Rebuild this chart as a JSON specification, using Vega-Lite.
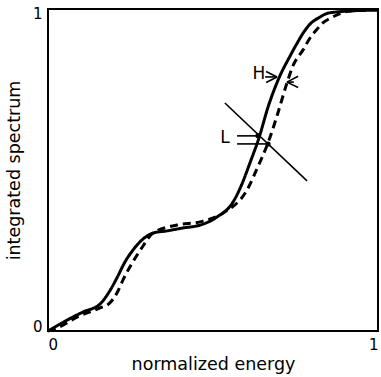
{
  "$schema": "https://vega.github.io/schema/vega-lite/v6.json",
  "width": 330,
  "height": 322,
  "autosize": {"type": "none"},
  "padding": {"left": 48, "top": 9, "right": 3, "bottom": 46},
  "background": "white",
  "config": {
    "view": {"stroke": "black", "strokeWidth": 2},
    "font": "DejaVu Sans",
    "axis": {"grid": false, "ticks": false, "domain": false, "labelColor": "black", "titleColor": "black", "labelFontSize": 15, "titleFontSize": 17.5, "titleFontWeight": "normal", "labelFont": "DejaVu Sans", "titleFont": "DejaVu Sans"}
  },
  "datasets": {
    "curves": [
      {"e": 0, "v": 0, "s": "solid"},
      {"e": 0.015, "v": 0.009, "s": "solid"},
      {"e": 0.058, "v": 0.034, "s": "solid"},
      {"e": 0.106, "v": 0.059, "s": "solid"},
      {"e": 0.158, "v": 0.084, "s": "solid"},
      {"e": 0.188, "v": 0.126, "s": "solid"},
      {"e": 0.209, "v": 0.165, "s": "solid"},
      {"e": 0.233, "v": 0.214, "s": "solid"},
      {"e": 0.258, "v": 0.252, "s": "solid"},
      {"e": 0.285, "v": 0.283, "s": "solid"},
      {"e": 0.318, "v": 0.304, "s": "solid"},
      {"e": 0.361, "v": 0.311, "s": "solid"},
      {"e": 0.409, "v": 0.320, "s": "solid"},
      {"e": 0.461, "v": 0.329, "s": "solid"},
      {"e": 0.512, "v": 0.354, "s": "solid"},
      {"e": 0.561, "v": 0.401, "s": "solid"},
      {"e": 0.585, "v": 0.450, "s": "solid"},
      {"e": 0.612, "v": 0.522, "s": "solid"},
      {"e": 0.640, "v": 0.602, "s": "solid"},
      {"e": 0.667, "v": 0.696, "s": "solid"},
      {"e": 0.700, "v": 0.786, "s": "solid"},
      {"e": 0.733, "v": 0.853, "s": "solid"},
      {"e": 0.755, "v": 0.894, "s": "solid"},
      {"e": 0.773, "v": 0.925, "s": "solid"},
      {"e": 0.794, "v": 0.953, "s": "solid"},
      {"e": 0.824, "v": 0.975, "s": "solid"},
      {"e": 0.845, "v": 0.986, "s": "solid"},
      {"e": 0.876, "v": 0.991, "s": "solid"},
      {"e": 0.915, "v": 0.994, "s": "solid"},
      {"e": 1.0, "v": 0.997, "s": "solid"},
      {"e": 0, "v": 0, "s": "dashed"},
      {"e": 0.027, "v": 0.009, "s": "dashed"},
      {"e": 0.088, "v": 0.043, "s": "dashed"},
      {"e": 0.158, "v": 0.072, "s": "dashed"},
      {"e": 0.185, "v": 0.085, "s": "dashed"},
      {"e": 0.209, "v": 0.118, "s": "dashed"},
      {"e": 0.227, "v": 0.158, "s": "dashed"},
      {"e": 0.248, "v": 0.199, "s": "dashed"},
      {"e": 0.270, "v": 0.236, "s": "dashed"},
      {"e": 0.288, "v": 0.264, "s": "dashed"},
      {"e": 0.318, "v": 0.304, "s": "dashed"},
      {"e": 0.391, "v": 0.329, "s": "dashed"},
      {"e": 0.461, "v": 0.339, "s": "dashed"},
      {"e": 0.530, "v": 0.366, "s": "dashed"},
      {"e": 0.603, "v": 0.438, "s": "dashed"},
      {"e": 0.636, "v": 0.510, "s": "dashed"},
      {"e": 0.667, "v": 0.585, "s": "dashed"},
      {"e": 0.694, "v": 0.668, "s": "dashed"},
      {"e": 0.724, "v": 0.770, "s": "dashed"},
      {"e": 0.742, "v": 0.823, "s": "dashed"},
      {"e": 0.773, "v": 0.873, "s": "dashed"},
      {"e": 0.794, "v": 0.910, "s": "dashed"},
      {"e": 0.815, "v": 0.937, "s": "dashed"},
      {"e": 0.833, "v": 0.957, "s": "dashed"},
      {"e": 0.855, "v": 0.971, "s": "dashed"},
      {"e": 0.876, "v": 0.982, "s": "dashed"},
      {"e": 0.915, "v": 0.994, "s": "dashed"},
      {"e": 1.0, "v": 0.997, "s": "dashed"}
    ],
    "segments": [
      {"x": 0.536, "y": 0.708, "x2": 0.785, "y2": 0.466},
      {"x": 0.573, "y": 0.606, "x2": 0.636, "y2": 0.606},
      {"x": 0.573, "y": 0.581, "x2": 0.667, "y2": 0.581},
      {"x": 0.661, "y": 0.806, "x2": 0.694, "y2": 0.789},
      {"x": 0.661, "y": 0.772, "x2": 0.694, "y2": 0.789},
      {"x": 0.658, "y": 0.789, "x2": 0.694, "y2": 0.789},
      {"x": 0.758, "y": 0.791, "x2": 0.724, "y2": 0.773},
      {"x": 0.758, "y": 0.756, "x2": 0.724, "y2": 0.773},
      {"x": 0.724, "y": 0.773, "x2": 0.745, "y2": 0.773}
    ],
    "labels": [
      {"x": 0.536, "y": 0.599, "t": "L"},
      {"x": 0.639, "y": 0.798, "t": "H"}
    ],
    "dots": [
      {"x": 0.636, "y": 0.606},
      {"x": 0.667, "y": 0.581}
    ]
  },
  "layer": [
    {
      "data": {"name": "curves"},
      "mark": {"type": "line", "interpolate": "monotone", "color": "black", "strokeWidth": 3},
      "encoding": {
        "x": {"field": "e", "type": "quantitative", "scale": {"domain": [0, 1], "nice": false}, "axis": {"values": [0, 1], "title": "normalized energy", "labelPadding": 6, "titlePadding": 3, "format": "d"}},
        "y": {"field": "v", "type": "quantitative", "scale": {"domain": [0, 1], "nice": false}, "axis": {"values": [0, 1], "title": "integrated spectrum", "labelPadding": 6, "titlePadding": 9, "labelFlush": true, "labelFlushOffset": 3, "format": "d"}},
        "detail": {"field": "s", "type": "nominal"},
        "strokeDash": {"field": "s", "type": "nominal", "scale": {"domain": ["solid", "dashed"], "range": [[1, 0], [8, 5]]}, "legend": null}
      }
    },
    {
      "data": {"name": "segments"},
      "mark": {"type": "rule", "color": "black", "strokeWidth": 1.6},
      "encoding": {
        "x": {"field": "x", "type": "quantitative"},
        "y": {"field": "y", "type": "quantitative"},
        "x2": {"field": "x2"},
        "y2": {"field": "y2"}
      }
    },
    {
      "data": {"name": "dots"},
      "mark": {"type": "circle", "color": "black", "opacity": 1, "size": 25},
      "encoding": {
        "x": {"field": "x", "type": "quantitative"},
        "y": {"field": "y", "type": "quantitative"}
      }
    },
    {
      "data": {"name": "labels"},
      "mark": {"type": "text", "fontSize": 17, "font": "DejaVu Sans", "color": "black", "align": "center", "baseline": "middle"},
      "encoding": {
        "x": {"field": "x", "type": "quantitative"},
        "y": {"field": "y", "type": "quantitative"},
        "text": {"field": "t"}
      }
    }
  ]
}
